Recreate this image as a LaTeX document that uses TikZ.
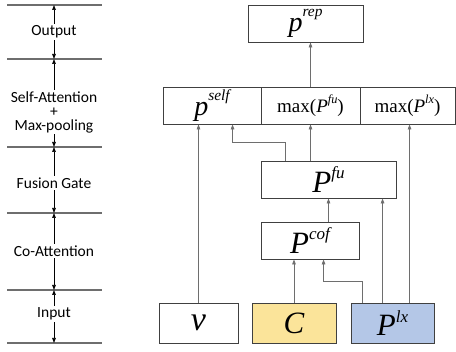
\documentclass[tikz,border=0pt]{standalone}
\usepackage{fontspec}
\setmainfont{Carlito}
\newfontfamily\tms{Liberation Serif}
\usetikzlibrary{arrows.meta}
\definecolor{cyel}{RGB}{251,228,154}
\definecolor{cblu}{RGB}{180,199,231}
\definecolor{lgray}{RGB}{110,110,110}
\definecolor{bgray}{RGB}{64,64,64}
\newcommand{\mi}[1]{{\tms\itshape #1}}
\newcommand{\msup}[1]{\raisebox{0.43em}{\fontsize{0.55em}{0.6em}\selectfont\tms\itshape #1}}
\newcommand{\lsup}[1]{\raisebox{0.55em}{\fontsize{0.55em}{0.6em}\selectfont\tms\itshape #1}}
\newcommand{\ssup}[1]{\raisebox{0.45em}{\fontsize{0.65em}{0.7em}\selectfont\tms\itshape #1}}
\tikzset{
  level/.style={draw=lgray, line width=1.4pt},
  span/.style={draw=black, line width=0.7pt, {Triangle[length=5pt,width=3.6pt]}-{Triangle[length=5pt,width=3.6pt]}},
  lab/.style={fill=white, inner sep=1.5pt, font=\fontsize{15.5}{14}\selectfont, align=center},
  box/.style={draw=bgray, line width=0.9pt, inner sep=0pt, minimum height=37pt},
  inbox/.style={draw=bgray, line width=0.9pt, inner sep=0pt, minimum height=40pt},
  conn/.style={draw=lgray, line width=0.8pt, -{Triangle[length=5pt,width=3.6pt]}},
}
\begin{document}
\begin{tikzpicture}[x=1pt,y=-1pt]
\useasboundingbox (0,0) rectangle (456,352);
% left column
\foreach \n/\yy in {a/5,b/59,c/147,d/213,e/290,f/343}{
  \coordinate (l\n) at (7,\yy);
  \coordinate (r\n) at (102,\yy);
  \coordinate (m\n) at (54,\yy);
  \draw[level] (l\n) -- (r\n);
}
\draw[span] (ma) -- (mb);
\draw[span] (mb) -- (mc);
\draw[span] (mc) -- (md);
\draw[span] (md) -- (me);
\draw[span] (me) -- (mf);
\node[lab] (t1) at (54,32) {Output};
\node[lab] (t2) at (54,112) {Self-Attention\\+\\Max-pooling};
\node[lab] (t3) at (54,183) {Fusion Gate};
\node[lab] (t4) at (54,251) {Co-Attention};
\node[lab] (t5) at (54,314) {Input};
% right boxes
\node[box, minimum width=115pt] (rep) at (305.5,23.5) {\fontsize{28}{30}\selectfont\mi{p}\lsup{rep}};
\node[box, minimum width=98pt] (pself) at (212,105.5) {\fontsize{28}{30}\selectfont\mi{p}\lsup{self}};
\node[box, minimum width=99pt] (maxfu) at (310.5,105.5) {\fontsize{19}{22}\selectfont\tms max(\mi{P}\ssup{fu})};
\node[box, minimum width=95pt] (maxlx) at (407.5,105.5) {\fontsize{19}{22}\selectfont\tms max(\mi{P}\ssup{lx})};
\node[box, minimum width=135pt] (fu) at (328.5,179.5) {\fontsize{31}{32}\selectfont\mi{P}\msup{fu}};
\node[box, minimum width=98pt] (cof) at (310,240.5) {\fontsize{31}{32}\selectfont\mi{P}\msup{cof}};
\node[inbox, minimum width=79pt] (v) at (198.5,323) {\fontsize{34}{34}\selectfont\mi{v}};
\node[inbox, minimum width=84pt, fill=cyel] (C) at (294,323) {\fontsize{31}{32}\selectfont\mi{C}};
\node[inbox, minimum width=83pt, fill=cblu] (lx) at (392.5,323) {\fontsize{31}{32}\selectfont\mi{P}\msup{lx}};
% connectors
\draw[conn] (maxfu.north) -- (rep.south -| maxfu.north);
\draw[conn] (v.north) -- (pself.south -| v.north);
\draw[conn] ([xshift=25pt]fu.north west) -- ++(0,-18) -| ([xshift=70pt]pself.south west);
\draw[conn] (fu.north -| maxfu.south) -- (maxfu.south);
\draw[conn] (fu.south |- cof.north) -- (fu.south);
\draw[conn] (C.north) -- (cof.south -| C.north);
\draw[conn] ([xshift=12pt]lx.north west) -- ++(0,-21) -| ([xshift=63pt]cof.south west);
\draw[conn] ([xshift=32pt]lx.north west) -- ([xshift=122pt]fu.south west);
\draw[conn] ([xshift=59pt]lx.north west) -- ([xshift=50pt]maxlx.south west);
\end{tikzpicture}
\end{document}
